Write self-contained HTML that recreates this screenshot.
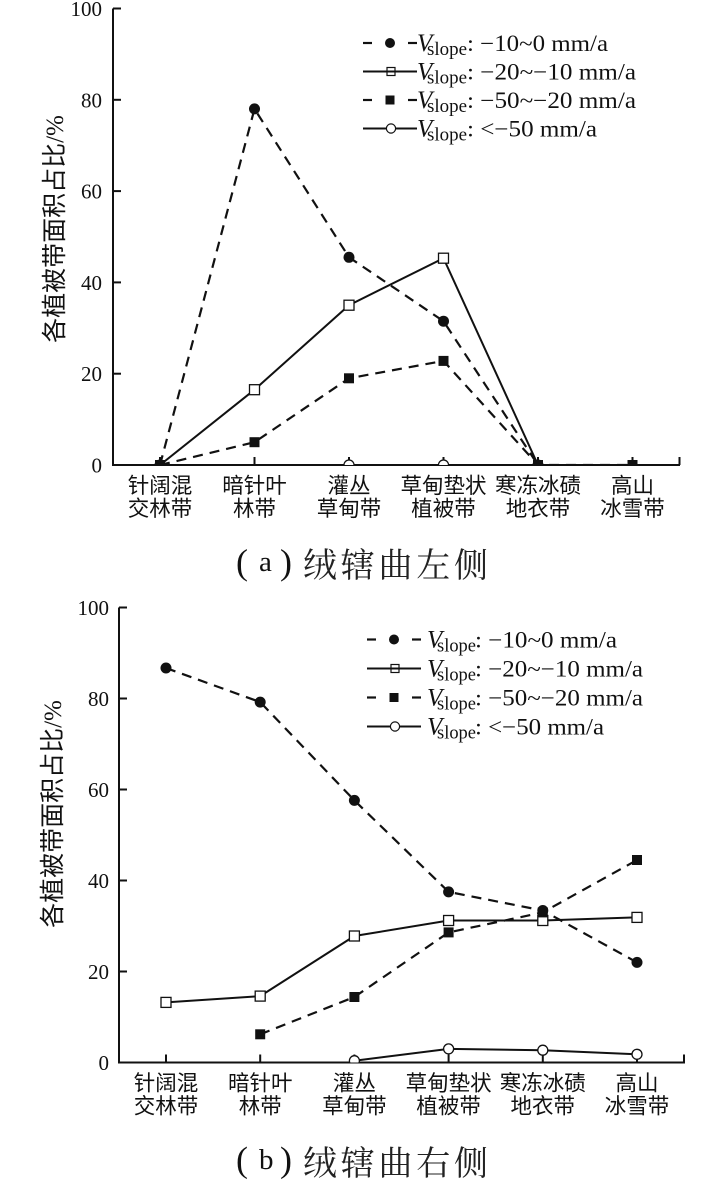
<!DOCTYPE html>
<html><head><meta charset="utf-8">
<style>
html,body{margin:0;padding:0;background:#fff;}
svg{display:block}
.t{font-family:"Liberation Serif",serif;fill:#111}
.c{font-family:"Liberation Sans","Noto Sans CJK SC",sans-serif;fill:#111}
.s{font-family:"Liberation Serif","Noto Serif CJK SC",serif;fill:#222}
</style></head><body>
<svg width="727" height="1194" viewBox="0 0 727 1194" xmlns="http://www.w3.org/2000/svg">
<defs>
<clipPath id="ca"><rect x="113" y="0" width="570" height="465"/></clipPath>
<clipPath id="cb"><rect x="119" y="590" width="570" height="472.5"/></clipPath>
</defs>

<!-- ================= PANEL A ================= -->
<g stroke="#111" stroke-width="2" fill="none">
<line x1="113" y1="8.5" x2="113" y2="466"/>
<line x1="112" y1="465" x2="680" y2="465"/>
<line x1="113" y1="8.5" x2="121" y2="8.5"/>
<line x1="113" y1="99.8" x2="121" y2="99.8"/>
<line x1="113" y1="191.1" x2="121" y2="191.1"/>
<line x1="113" y1="282.4" x2="121" y2="282.4"/>
<line x1="113" y1="373.7" x2="121" y2="373.7"/>
<line x1="160" y1="465" x2="160" y2="457"/>
<line x1="254.5" y1="465" x2="254.5" y2="457"/>
<line x1="349" y1="465" x2="349" y2="457"/>
<line x1="443.5" y1="465" x2="443.5" y2="457"/>
<line x1="538" y1="465" x2="538" y2="457"/>
<line x1="632.5" y1="465" x2="632.5" y2="457"/>
<line x1="679.5" y1="465" x2="679.5" y2="457"/>
</g>
<g class="t" font-size="21" text-anchor="end">
<text x="102" y="16">100</text>
<text x="102" y="107.3">80</text>
<text x="102" y="198.6">60</text>
<text x="102" y="289.9">40</text>
<text x="102" y="381.2">20</text>
<text x="102" y="472.5">0</text>
</g>
<text class="c" font-size="25" text-anchor="middle" transform="translate(63,229) rotate(-90)">各植被带面积占比<tspan font-family="Liberation Serif">/%</tspan></text>

<g class="c" font-size="21.5" text-anchor="middle">
<text x="160" y="493">针阔混</text><text x="160" y="516">交林带</text>
<text x="254.5" y="493">暗针叶</text><text x="254.5" y="516">林带</text>
<text x="349" y="493">灌丛</text><text x="349" y="516">草甸带</text>
<text x="443.5" y="493">草甸垫状</text><text x="443.5" y="516">植被带</text>
<text x="538" y="493">寒冻冰碛</text><text x="538" y="516">地衣带</text>
<text x="632.5" y="493">高山</text><text x="632.5" y="516">冰雪带</text>
</g>

<g clip-path="url(#ca)">
<polyline points="160,465 254.5,108.9 349,257.3 443.5,321.2 538,465" fill="none" stroke="#111" stroke-width="2.2" stroke-dasharray="10 7"/>
<g fill="#111">
<circle cx="160" cy="465" r="5.5"/><circle cx="254.5" cy="108.9" r="5.5"/><circle cx="349" cy="257.3" r="5.5"/><circle cx="443.5" cy="321.2" r="5.5"/><circle cx="538" cy="465" r="5.5"/>
</g>
<polyline points="160,465 254.5,389.7 349,305.2 443.5,258.2 538,465" fill="none" stroke="#111" stroke-width="2"/>
<g fill="#fff" stroke="#111" stroke-width="1.3">
<rect x="249.5" y="384.7" width="10" height="10"/><rect x="344" y="300.2" width="10" height="10"/><rect x="438.5" y="253.2" width="10" height="10"/>
</g>
<polyline points="160,465 254.5,442.2 349,378.3 443.5,360.9 538,465 632.5,465" fill="none" stroke="#111" stroke-width="2.2" stroke-dasharray="10 7"/>
<g fill="#111">
<rect x="155" y="460" width="10" height="10"/><rect x="249.5" y="437.2" width="10" height="10"/><rect x="344" y="373.3" width="10" height="10"/><rect x="438.5" y="355.9" width="10" height="10"/><rect x="533" y="460" width="10" height="10"/><rect x="627.5" y="460" width="10" height="10"/>
</g>
<g fill="#fff" stroke="#111" stroke-width="1.3">
<circle cx="349" cy="465" r="5"/><circle cx="443.5" cy="465" r="5"/>
</g>
</g>

<!-- legend A -->
<g stroke="#111" stroke-width="2.2">
<line x1="363" y1="43" x2="372" y2="43"/><line x1="408" y1="43" x2="417" y2="43"/>
<line x1="363" y1="71.5" x2="417" y2="71.5" stroke-width="2"/>
<line x1="363" y1="100" x2="372" y2="100"/><line x1="408" y1="100" x2="417" y2="100"/>
<line x1="363" y1="128.5" x2="417" y2="128.5" stroke-width="2"/>
</g>
<circle cx="390" cy="43" r="5" fill="#111"/>
<rect x="387" y="67.5" width="8" height="8" fill="none" stroke="#111" stroke-width="1.2"/>
<rect x="385.5" y="95.5" width="9" height="9" fill="#111"/>
<circle cx="391" cy="128.5" r="4.6" fill="#fff" stroke="#111" stroke-width="1.2"/>
<g class="t">
<text x="417" y="51" font-size="25" font-style="italic">V</text>
<text x="427" y="55" font-size="19" textLength="40" lengthAdjust="spacingAndGlyphs">slope</text>
<text x="467" y="51" font-size="23" textLength="141" lengthAdjust="spacingAndGlyphs">: −10~0 mm/a</text>
<text x="417" y="79.5" font-size="25" font-style="italic">V</text>
<text x="427" y="83.5" font-size="19" textLength="40" lengthAdjust="spacingAndGlyphs">slope</text>
<text x="467" y="79.5" font-size="23" textLength="169" lengthAdjust="spacingAndGlyphs">: −20~−10 mm/a</text>
<text x="417" y="108" font-size="25" font-style="italic">V</text>
<text x="427" y="112" font-size="19" textLength="40" lengthAdjust="spacingAndGlyphs">slope</text>
<text x="467" y="108" font-size="23" textLength="169" lengthAdjust="spacingAndGlyphs">: −50~−20 mm/a</text>
<text x="417" y="136.5" font-size="25" font-style="italic">V</text>
<text x="427" y="140.5" font-size="19" textLength="40" lengthAdjust="spacingAndGlyphs">slope</text>
<text x="467" y="136.5" font-size="23" textLength="130" lengthAdjust="spacingAndGlyphs">: &lt;−50 mm/a</text>
</g>

<!-- caption A -->
<text class="t" x="236" y="574" font-size="36">(</text>
<text class="t" x="259" y="571" font-size="29">a</text>
<text class="t" x="280" y="574" font-size="36">)</text>
<text x="303" y="577" font-size="34" textLength="185" lengthAdjust="spacing" font-family="Noto Serif CJK SC, serif" fill="#222">绒辖曲左侧</text>

<!-- ================= PANEL B ================= -->
<g stroke="#111" stroke-width="2" fill="none">
<line x1="119" y1="607.5" x2="119" y2="1063.5"/>
<line x1="118" y1="1062.5" x2="685" y2="1062.5"/>
<line x1="119" y1="607.5" x2="127" y2="607.5"/>
<line x1="119" y1="698.5" x2="127" y2="698.5"/>
<line x1="119" y1="789.5" x2="127" y2="789.5"/>
<line x1="119" y1="880.5" x2="127" y2="880.5"/>
<line x1="119" y1="971.5" x2="127" y2="971.5"/>
<line x1="166" y1="1062.5" x2="166" y2="1054.5"/>
<line x1="260.2" y1="1062.5" x2="260.2" y2="1054.5"/>
<line x1="354.4" y1="1062.5" x2="354.4" y2="1054.5"/>
<line x1="448.6" y1="1062.5" x2="448.6" y2="1054.5"/>
<line x1="542.8" y1="1062.5" x2="542.8" y2="1054.5"/>
<line x1="637" y1="1062.5" x2="637" y2="1054.5"/>
<line x1="684" y1="1062.5" x2="684" y2="1054.5"/>
</g>
<g class="t" font-size="21" text-anchor="end">
<text x="109" y="615">100</text>
<text x="109" y="706">80</text>
<text x="109" y="797">60</text>
<text x="109" y="888">40</text>
<text x="109" y="979">20</text>
<text x="109" y="1070">0</text>
</g>
<text class="c" font-size="25" text-anchor="middle" transform="translate(61,814) rotate(-90)">各植被带面积占比<tspan font-family="Liberation Serif">/%</tspan></text>

<g class="c" font-size="21.5" text-anchor="middle">
<text x="166" y="1090.5">针阔混</text><text x="166" y="1113.5">交林带</text>
<text x="260.2" y="1090.5">暗针叶</text><text x="260.2" y="1113.5">林带</text>
<text x="354.4" y="1090.5">灌丛</text><text x="354.4" y="1113.5">草甸带</text>
<text x="448.6" y="1090.5">草甸垫状</text><text x="448.6" y="1113.5">植被带</text>
<text x="542.8" y="1090.5">寒冻冰碛</text><text x="542.8" y="1113.5">地衣带</text>
<text x="637" y="1090.5">高山</text><text x="637" y="1113.5">冰雪带</text>
</g>

<g clip-path="url(#cb)">
<polyline points="166,668 260.2,702.1 354.4,800.4 448.6,891.9 542.8,910.5 637,962.4" fill="none" stroke="#111" stroke-width="2.2" stroke-dasharray="10 7"/>
<polyline points="166,1002.4 260.2,996.1 354.4,936 448.6,920.5 542.8,920.5 637,917.4" fill="none" stroke="#111" stroke-width="2"/>
<polyline points="260.2,1034.3 354.4,997 448.6,932.4 542.8,912.4 637,860" fill="none" stroke="#111" stroke-width="2.2" stroke-dasharray="10 7"/>
<polyline points="354.4,1060.7 448.6,1048.9 542.8,1050.2 637,1054.3" fill="none" stroke="#111" stroke-width="2"/>
<g fill="#fff" stroke="#111" stroke-width="1.3">
<rect x="161" y="997.4" width="10" height="10"/><rect x="255.2" y="991.1" width="10" height="10"/><rect x="349.4" y="931" width="10" height="10"/><rect x="443.6" y="915.5" width="10" height="10"/><rect x="537.8" y="915.5" width="10" height="10"/><rect x="632" y="912.4" width="10" height="10"/>
</g>
<g fill="#111">
<rect x="255.2" y="1029.3" width="10" height="10"/><rect x="349.4" y="992" width="10" height="10"/><rect x="443.6" y="927.4" width="10" height="10"/><rect x="537.8" y="907.4" width="10" height="10"/><rect x="632" y="855" width="10" height="10"/>
</g>
<g fill="#111">
<circle cx="166" cy="668" r="5.5"/><circle cx="260.2" cy="702.1" r="5.5"/><circle cx="354.4" cy="800.4" r="5.5"/><circle cx="448.6" cy="891.9" r="5.5"/><circle cx="542.8" cy="910.5" r="5.5"/><circle cx="637" cy="962.4" r="5.5"/>
</g>
<g fill="#fff" stroke="#111" stroke-width="1.3">
<circle cx="354.4" cy="1060.7" r="5"/><circle cx="448.6" cy="1048.9" r="5"/><circle cx="542.8" cy="1050.2" r="5"/><circle cx="637" cy="1054.3" r="5"/>
</g>
</g>

<!-- legend B -->
<g stroke="#111" stroke-width="2.2">
<line x1="367" y1="639.5" x2="376" y2="639.5"/><line x1="412" y1="639.5" x2="421" y2="639.5"/>
<line x1="367" y1="668.5" x2="421" y2="668.5" stroke-width="2"/>
<line x1="367" y1="697.5" x2="376" y2="697.5"/><line x1="412" y1="697.5" x2="421" y2="697.5"/>
<line x1="367" y1="726.5" x2="421" y2="726.5" stroke-width="2"/>
</g>
<circle cx="394" cy="639.5" r="5" fill="#111"/>
<rect x="391" y="664.5" width="8" height="8" fill="none" stroke="#111" stroke-width="1.2"/>
<rect x="389.5" y="693" width="9" height="9" fill="#111"/>
<circle cx="395" cy="726.5" r="4.6" fill="#fff" stroke="#111" stroke-width="1.2"/>
<g class="t">
<text x="427" y="647.5" font-size="25" font-style="italic">V</text>
<text x="437" y="651.5" font-size="19" textLength="39" lengthAdjust="spacingAndGlyphs">slope</text>
<text x="475" y="647.5" font-size="23" textLength="142" lengthAdjust="spacingAndGlyphs">: −10~0 mm/a</text>
<text x="427" y="676.5" font-size="25" font-style="italic">V</text>
<text x="437" y="680.5" font-size="19" textLength="39" lengthAdjust="spacingAndGlyphs">slope</text>
<text x="475" y="676.5" font-size="23" textLength="168" lengthAdjust="spacingAndGlyphs">: −20~−10 mm/a</text>
<text x="427" y="705.5" font-size="25" font-style="italic">V</text>
<text x="437" y="709.5" font-size="19" textLength="39" lengthAdjust="spacingAndGlyphs">slope</text>
<text x="475" y="705.5" font-size="23" textLength="168" lengthAdjust="spacingAndGlyphs">: −50~−20 mm/a</text>
<text x="427" y="734.5" font-size="25" font-style="italic">V</text>
<text x="437" y="738.5" font-size="19" textLength="39" lengthAdjust="spacingAndGlyphs">slope</text>
<text x="475" y="734.5" font-size="23" textLength="129" lengthAdjust="spacingAndGlyphs">: &lt;−50 mm/a</text>
</g>

<!-- caption B -->
<text class="t" x="236" y="1171.5" font-size="36">(</text>
<text class="t" x="259" y="1169" font-size="29">b</text>
<text class="t" x="280" y="1171.5" font-size="36">)</text>
<text x="303" y="1175" font-size="34" textLength="185" lengthAdjust="spacing" font-family="Noto Serif CJK SC, serif" fill="#222">绒辖曲右侧</text>
</svg>
</body></html>
